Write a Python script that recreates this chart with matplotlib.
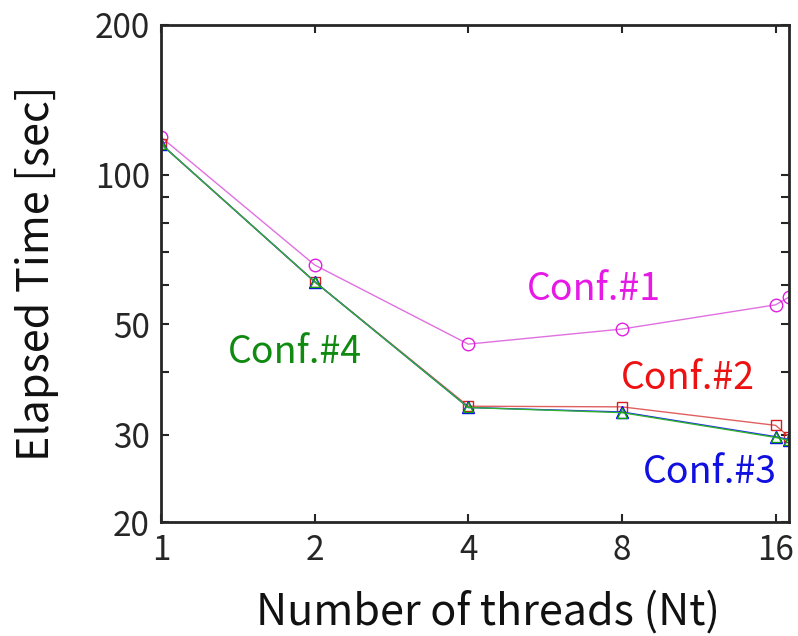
import numpy as np
import matplotlib.pyplot as plt

threads = [1, 2, 4, 8, 16, 17]
conf1 = [119, 65.8, 45.6, 48.9, 54.7, 56.7]
conf2 = [115.2, 60.9, 34.2, 34.1, 31.3, 29.7]
conf3 = [115.2, 60.9, 34.0, 33.3, 29.7, 29.3]
conf4 = [115.2, 60.9, 34.0, 33.2, 29.6, 29.2]

yticks = [20, 30, 40, 50, 60, 70, 80, 90, 100, 200]
ytick_labels = ["20", "30", "", "50", "", "", "", "", "100", "200"]
xticks = [1, 2, 4, 8, 16]

plt.rcParams["font.family"] = ["Noto Sans CJK JP", "DejaVu Sans"]

fig = plt.figure(figsize=(7.98, 6.36), dpi=100)
ax = fig.add_axes([0.2018, 0.1792, 0.7869, 0.7815])

ax.plot(threads, conf1, color="#e070e0", lw=1.0, marker="o", ms=9, mfc="none", mec="#e020e0", mew=1.0)
ax.plot(threads, conf2, color="#e06060", lw=1.0, marker="s", ms=7, mfc="none", mec="#d02020", mew=1.0)
ax.plot(threads, conf3, color="#2020ff", lw=1.0, marker="^", ms=8, mfc="none", mec="#0000ff", mew=1.0)
ax.plot(threads, conf4, color="#30b030", lw=1.0, marker="^", ms=7, mfc="none", mec="#10a010", mew=1.0)

ax.set_xscale("log")
ax.set_yscale("log")
ax.set_xlim(1, 17)
ax.set_ylim(20, 200)
ax.set_xticks(xticks)
ax.set_xticklabels([str(t) for t in xticks])
ax.set_yticks(yticks)
ax.set_yticklabels(ytick_labels)
ax.minorticks_off()

ax.tick_params(direction="in", length=6, width=1.5, colors="#262626", labelsize=24,
               top=True, right=True, pad=8)
for s in ax.spines.values():
    s.set_linewidth(2)
    s.set_color("#262626")

ax.set_xlabel("Number of threads (Nt)", fontsize=31, color="#111111", labelpad=16)
ax.xaxis.label.set_x(0.52)
ax.set_ylabel("Elapsed Time [sec]", fontsize=31, color="#111111", labelpad=26)

ax.text(7.04, 58.6, "Conf.#1", color="#e619e6", fontsize=27, ha="center", va="center")
ax.text(10.76, 38.8, "Conf.#2", color="#ee1111", fontsize=27, ha="center", va="center")
ax.text(11.88, 25.1, "Conf.#3", color="#1010e0", fontsize=27, ha="center", va="center")
ax.text(1.83, 43.96, "Conf.#4", color="#108a10", fontsize=27, ha="center", va="center")

fig.savefig("out.png", dpi=100)
